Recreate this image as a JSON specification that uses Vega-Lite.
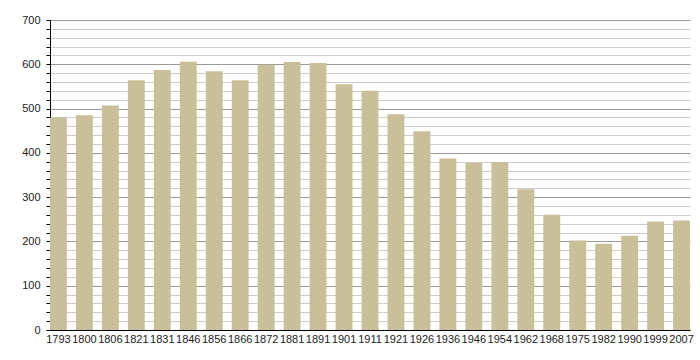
{
  "$schema": "https://vega.github.io/schema/vega-lite/v6.json",
  "width": 640,
  "height": 310,
  "autosize": "none",
  "padding": {"left": 50, "top": 20, "right": 10, "bottom": 30},
  "background": "white",
  "data": {"values": [
    {"year": "1793", "pop": 480},
    {"year": "1800", "pop": 485},
    {"year": "1806", "pop": 507},
    {"year": "1821", "pop": 564},
    {"year": "1831", "pop": 587},
    {"year": "1846", "pop": 606},
    {"year": "1856", "pop": 584},
    {"year": "1866", "pop": 564},
    {"year": "1872", "pop": 599},
    {"year": "1881", "pop": 605},
    {"year": "1891", "pop": 603},
    {"year": "1901", "pop": 555},
    {"year": "1911", "pop": 540},
    {"year": "1921", "pop": 487},
    {"year": "1926", "pop": 449},
    {"year": "1936", "pop": 387},
    {"year": "1946", "pop": 377},
    {"year": "1954", "pop": 379},
    {"year": "1962", "pop": 318},
    {"year": "1968", "pop": 260},
    {"year": "1975", "pop": 202},
    {"year": "1982", "pop": 195},
    {"year": "1990", "pop": 213},
    {"year": "1999", "pop": 245},
    {"year": "2007", "pop": 247}
  ]},
  "mark": {"type": "bar", "color": "#c9bf98"},
  "encoding": {
    "x": {
      "field": "year", "type": "nominal", "sort": null,
      "scale": {"paddingInner": 0.35, "paddingOuter": 0},
      "axis": {
        "title": null, "labelAngle": 0, "ticks": false,
        "domainColor": "#000", "domainWidth": 1,
        "labelFont": "Liberation Sans", "labelFontSize": 11, "labelColor": "#222",
        "labelPadding": 3
      }
    },
    "y": {
      "field": "pop", "type": "quantitative",
      "scale": {"domain": [0, 700], "nice": false},
      "axis": {
        "title": null,
        "values": [0,20,40,60,80,100,120,140,160,180,200,220,240,260,280,300,320,340,360,380,400,420,440,460,480,500,520,540,560,580,600,620,640,660,680,700],
        "labelExpr": "datum.value % 100 === 0 ? datum.label : ''",
        "grid": true,
        "gridColor": {"condition": {"test": "datum.value % 100 === 0", "value": "#9a9a9a"}, "value": "#cccccc"},
        "gridWidth": 1,
        "domainColor": "#000",
        "tickColor": "#000", "tickSize": 4,
        "labelFont": "Liberation Sans", "labelFontSize": 11, "labelColor": "#222",
        "labelPadding": 6
      }
    }
  },
  "config": {"view": {"stroke": null}}
}
